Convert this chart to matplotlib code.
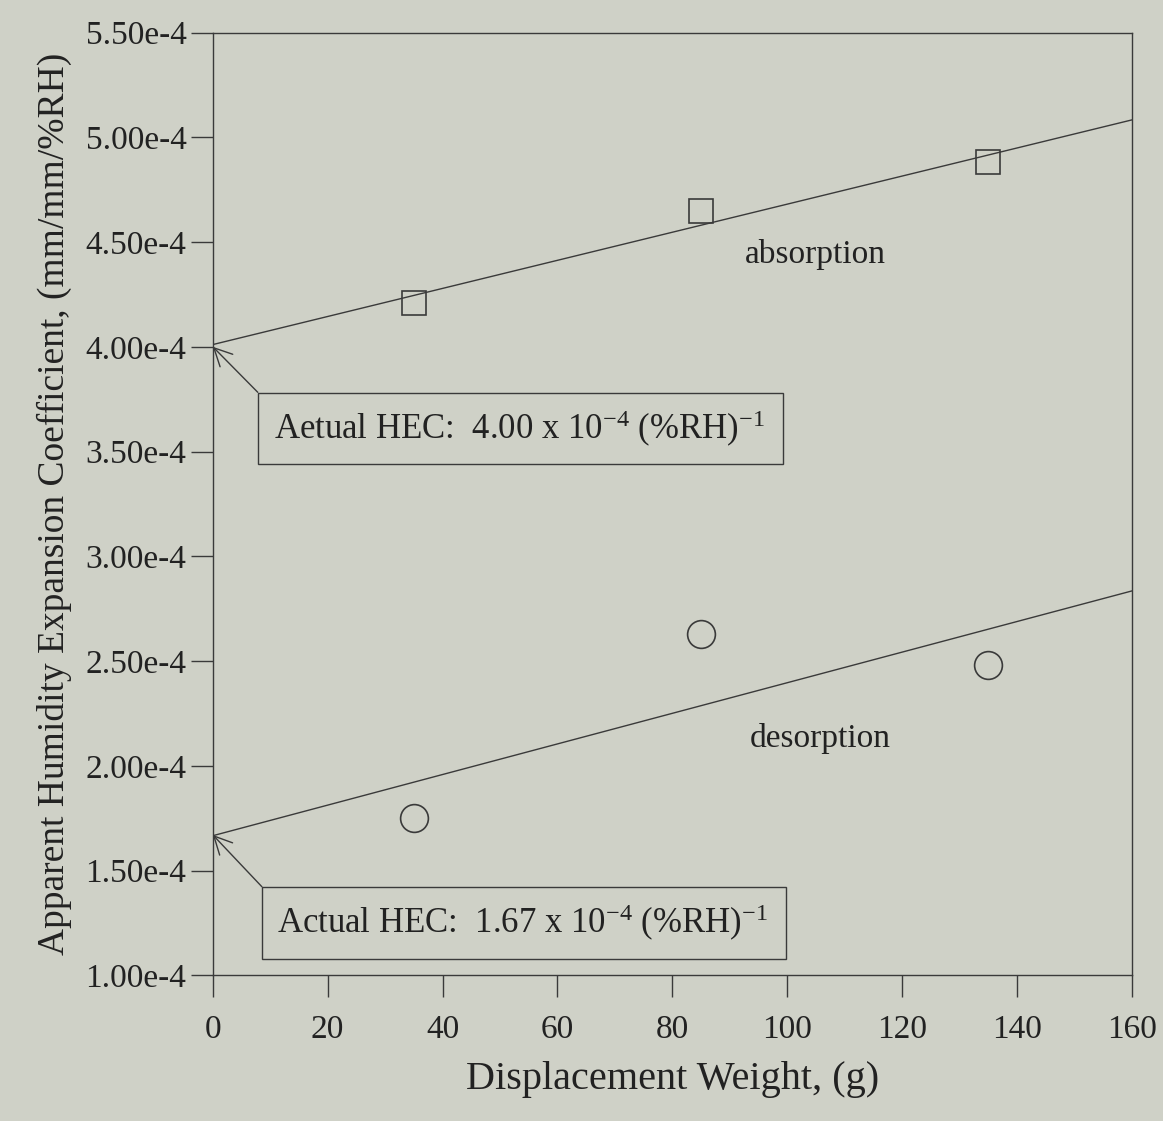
import numpy as np
import matplotlib.pyplot as plt

# displacement weight (g) and apparent HEC values
weight = [35, 85, 135]
absorption = [4.21e-4, 4.65e-4, 4.88e-4]
desorption = [1.75e-4, 2.63e-4, 2.48e-4]

x_ticks = [0, 20, 40, 60, 80, 100, 120, 140, 160]
y_ticks = [1.0e-4, 1.5e-4, 2.0e-4, 2.5e-4, 3.0e-4, 3.5e-4, 4.0e-4, 4.5e-4, 5.0e-4, 5.5e-4]

plt.rcParams['font.family'] = ['Liberation Serif', 'DejaVu Serif']
plt.rcParams['mathtext.fontset'] = 'custom'
plt.rcParams['mathtext.rm'] = 'Liberation Serif'
plt.rcParams['mathtext.it'] = 'Liberation Serif'

bg = '#cfd1c7'
ink = '#3a3a3a'

fig = plt.figure(figsize=(11.63, 11.21), dpi=100, facecolor=bg)
ax = fig.add_axes([0.183, 0.130, 0.790, 0.841], facecolor=bg)

xs = np.array([0, 160])
for vals, mk, ms in [(absorption, 's', 17), (desorption, 'o', 20)]:
    k, b = np.polyfit(weight, vals, 1)
    ax.plot(xs, k * xs + b, color=ink, lw=1.0)
    ax.plot(weight, vals, mk, ms=ms, mfc='none', mec=ink, mew=1.2)

ax.set_xlim(0, 160)
ax.set_ylim(1.0e-4, 5.5e-4)
ax.set_xticks(x_ticks)
ax.set_yticks(y_ticks)
ax.set_yticklabels(['%.2fe-4' % (v * 1e4) for v in y_ticks])
ax.tick_params(direction='out', length=16, width=1, color=ink, labelsize=24,
               labelcolor='#222222')
ax.tick_params(axis='x', pad=12)
ax.tick_params(axis='y', pad=3)
for s in ax.spines.values():
    s.set_color(ink)
    s.set_linewidth(1.0)

ax.set_xlabel('Displacement Weight, (g)', fontsize=29, color='#222222', labelpad=12)
ax.set_ylabel('Apparent Humidity Expansion Coefficient, (mm/mm/%RH)', fontsize=27,
              color='#222222', labelpad=10)

ax.text(92.6, 4.44e-4, 'absorption', fontsize=24, va='center', color='#222222')
ax.text(93.5, 2.13e-4, 'desorption', fontsize=24, va='center', color='#222222')

box = dict(boxstyle='square,pad=0.45', fc=bg, ec=ink, lw=1.0)
arrow = dict(arrowstyle='->', color=ink, lw=1.0, relpos=(0, 1), shrinkA=0,
             shrinkB=0, mutation_scale=32)
ax.annotate(r'Aetual HEC:  4.00 x 10$^{-4}$ (%RH)$^{-1}$ ', xy=(0, 4.0e-4),
            xytext=(10.6, 3.61e-4), fontsize=25, va='center', color='#222222',
            bbox=box, arrowprops=arrow)
ax.annotate(r'Actual HEC:  1.67 x 10$^{-4}$ (%RH)$^{-1}$ ', xy=(0, 1.67e-4),
            xytext=(11.2, 1.25e-4), fontsize=25, va='center', color='#222222',
            bbox=box, arrowprops=arrow)

plt.savefig('out.png', dpi=100, facecolor=bg)
print('finished!')
